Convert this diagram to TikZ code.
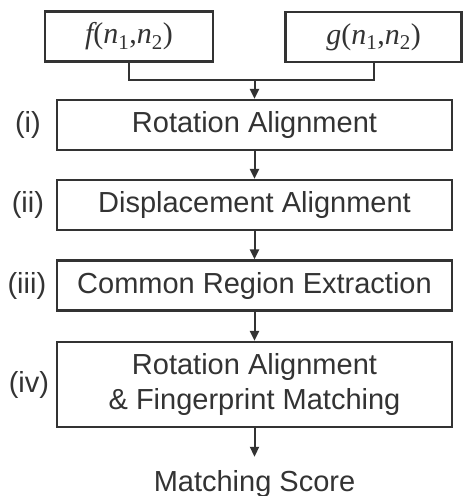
\documentclass[tikz,border=0pt]{standalone}
\usepackage{fontspec}
\setmainfont{Liberation Sans}
\newfontfamily\inputfont{Liberation Serif}
\usetikzlibrary{arrows.meta}
\newcommand{\sig}[1]{{\itshape #1}({\itshape n}\textsubscript{1},{\itshape n}\textsubscript{2})}
\tikzset{
  procbox/.style={draw,line width=2.2pt,minimum width=395pt,minimum height=50pt,inner sep=0pt,align=center,font=\fontsize{29}{35}\selectfont},
  inbox/.style={draw,line width=2.2pt,minimum height=50pt,inner sep=0pt,font=\inputfont\fontsize{30}{34}\selectfont},
  steplabel/.style={inner sep=0pt,font=\fontsize{29}{33}\selectfont},
  flow/.style={line width=2pt,-{Triangle[length=10pt,width=9pt]}}
}
\begin{document}
\begin{tikzpicture}[x=1pt,y=-1pt,color=black!80]
\path[use as bounding box] (0,0) rectangle (463,496);
% inputs
\node[inbox,minimum width=168pt] (f) at (129,36.5) {\sig{f}};
\node[inbox,minimum width=176pt] (g) at (373.5,37) {\sig{g}};
% processing steps
\node[procbox] (rot) at (254.5,125) {Rotation Alignment};
\node[procbox] (disp) at (254.5,205) {Displacement Alignment};
\node[procbox] (common) at (254.5,285.5) {Common Region Extraction};
\node[procbox,minimum height=85pt] (match) at (254.5,384.5) {Rotation Alignment\\\& Fingerprint Matching};
\node[steplabel,inner ysep=13pt,anchor=base] (score) at (254.5,491) {Matching Score};
% step labels
\node[steplabel] (lab1) at ([xshift=-28pt]rot.west) {(i)};
\node[steplabel] (lab2) at ([xshift=-28pt]disp.west) {(ii)};
\node[steplabel] (lab3) at ([xshift=-29pt]common.west) {(iii)};
\node[steplabel] (lab4) at ([xshift=-27pt]match.west) {(iv)};
% connectors
\coordinate (join) at (254.5,80);
\draw[line width=2pt] (f.south) |- (join) -| (g.south);
\draw[flow] (join) -- (rot);
\draw[flow] (rot) -- (disp);
\draw[flow] (disp) -- (common);
\draw[flow] (common) -- (match);
\draw[flow] (match) -- (score);
\end{tikzpicture}
\end{document}
